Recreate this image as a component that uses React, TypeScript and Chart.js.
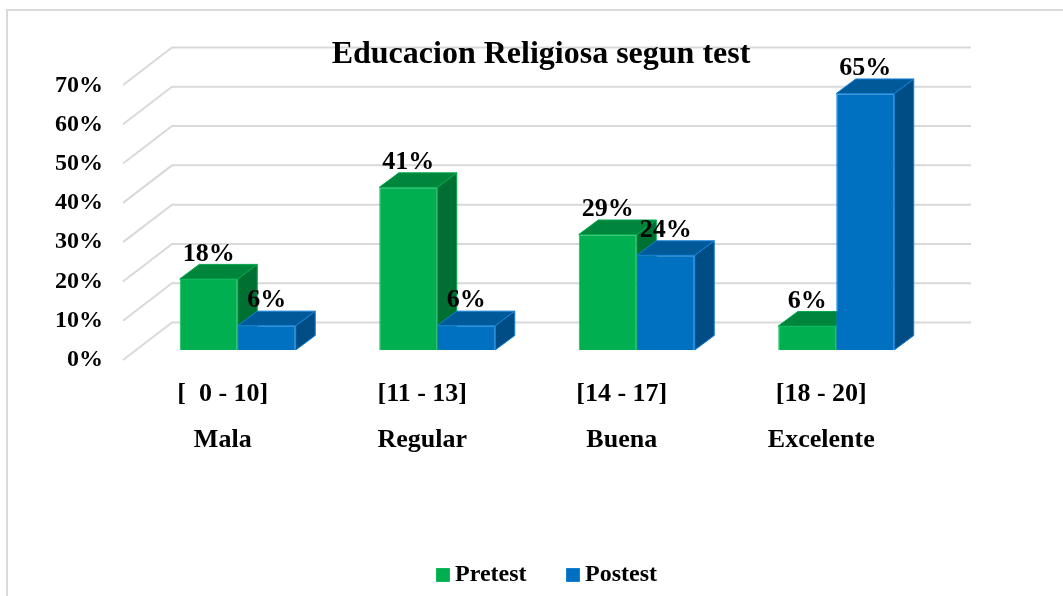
import React, { useEffect, useRef } from "react";
import { Chart, registerables } from "chart.js";

Chart.register(...registerables);

const categoryRanges = ["[  0 - 10]", "[11 - 13]", "[14 - 17]", "[18 - 20]"];
const categoryNames = ["Mala", "Regular", "Buena", "Excelente"];
const pretest = [18.1, 41.4, 29.4, 6.1];
const postest = [6.2, 6.2, 24.1, 65.3];
const yTicks = [0, 10, 20, 30, 40, 50, 60, 70];

const FONT = "'Liberation Serif'";
const GRID = "#D9D9D9";
const GREEN = "#00B050";
const BLUE = "#0070C0";
const faceColors = [
  { top: "#00853C", side: "#006F32", edge: "#00A84C" },
  { top: "#005A9A", side: "#004C84", edge: "#1580D8" },
];

const DEPTH_X = 19.5;
const DEPTH_Y = 14.5;

const poly = (ctx: CanvasRenderingContext2D, pts: number[][], fill: string, edge: string) => {
  ctx.beginPath();
  pts.forEach(([x, y], i) => (i ? ctx.lineTo(x, y) : ctx.moveTo(x, y)));
  ctx.closePath();
  ctx.fillStyle = fill;
  ctx.fill();
  ctx.strokeStyle = edge;
  ctx.lineWidth = 1;
  ctx.stroke();
};

const wallPlugin = {
  id: "wall",
  beforeDraw(chart: any) {
    const { ctx, scales } = chart;
    const area = chart.chartArea;
    ctx.save();
    ctx.strokeStyle = GRID;
    ctx.lineWidth = 2;
    yTicks.forEach((v) => {
      const y = scales.y.getPixelForValue(v);
      ctx.beginPath();
      ctx.moveTo(area.left - 15, y + 10);
      ctx.lineTo(area.left + 34, y - 27.5);
      ctx.lineTo(area.right + 35, y - 27.5);
      ctx.stroke();
    });
    ctx.restore();
  },
};

const facesPlugin = {
  id: "faces",
  beforeDatasetsDraw(chart: any) {
    const { ctx } = chart;
    ctx.save();
    [0, 1].forEach((d) => {
      const c = faceColors[d];
      chart.getDatasetMeta(d).data.forEach((bar: any) => {
        const { x, y, base, width } = bar.getProps(["x", "y", "base", "width"], true);
        const l = x - width / 2;
        const r = x + width / 2;
        poly(ctx, [[r, y], [r + DEPTH_X, y - DEPTH_Y], [r + DEPTH_X, base - DEPTH_Y], [r, base]], c.side, c.edge);
        poly(ctx, [[l, y], [r, y], [r + DEPTH_X, y - DEPTH_Y], [l + DEPTH_X, y - DEPTH_Y]], c.top, c.edge);
      });
    });
    ctx.restore();
  },
};

const valueLabelPlugin = {
  id: "valueLabels",
  afterDatasetsDraw(chart: any) {
    const { ctx } = chart;
    ctx.save();
    ctx.font = `bold 26px ${FONT}`;
    ctx.fillStyle = "#000";
    ctx.textAlign = "center";
    ctx.textBaseline = "middle";
    [0, 1].forEach((d) => {
      const values = chart.data.datasets[d].data;
      chart.getDatasetMeta(d).data.forEach((bar: any, i: number) => {
        ctx.fillText(`${Math.round(values[i])}%`, bar.x, bar.y - 25);
      });
    });
    ctx.restore();
  },
};

const boxShiftPlugin = {
  id: "boxShift",
  afterLayout(chart: any) {
    chart.titleBlock.left += 63;
    chart.titleBlock.right += 63;
    chart.legend.left += 72;
    chart.legend.right += 72;
    chart.legend.top += 1;
    chart.legend.bottom += 1;
  },
};

export default function App() {
  const ref = useRef<HTMLCanvasElement>(null);

  useEffect(() => {
    document.body.style.margin = "0";
    const chart = new Chart(ref.current!, {
      type: "bar",
      data: {
        labels: categoryRanges.map((r, i) => [r, categoryNames[i]]),
        datasets: [
          { label: "Pretest", data: pretest, backgroundColor: GREEN, borderColor: "#12B85E", borderWidth: 1 },
          { label: "Postest", data: postest, backgroundColor: BLUE, borderColor: "#1580D8", borderWidth: 1 },
        ],
      },
      options: {
        animation: false,
        responsive: false,
        layout: { padding: { left: 20, right: 127, bottom: 0, top: 0 } },
        datasets: { bar: { categoryPercentage: 0.5815, barPercentage: 1 } },
        plugins: {
          title: {
            display: true,
            text: "Educacion Religiosa segun test",
            color: "#000",
            font: { family: FONT, size: 32, weight: "bold", lineHeight: 1.1 },
            padding: { top: 37, bottom: 2.8 },
          },
          legend: {
            position: "bottom",
            labels: {
              color: "#000",
              usePointStyle: true,
              pointStyle: "rect",
              boxWidth: 0.01,
              boxHeight: 13,
              padding: 46.5,
              font: { family: FONT, size: 24, weight: "bold" },
            },
          },
          tooltip: { enabled: false },
        },
        scales: {
          x: {
            grid: { display: false },
            border: { display: false },
            ticks: {
              color: "#000",
              padding: 3,
              labelOffset: -15,
              maxRotation: 0,
              autoSkip: false,
              font: { family: FONT, size: 26, weight: "bold", lineHeight: 1.77 },
            },
            afterFit(scale: any) {
              const legendH = scale.chart.legend?.height ?? 0;
              scale.height = 596 - 360 - legendH;
            },
          },
          y: {
            display: false,
            min: -2.545,
            max: 70,
          },
          y1: {
            position: "left",
            min: -0.035,
            max: 72.665,
            grid: { display: false },
            border: { display: false },
            afterBuildTicks(scale: any) {
              scale.ticks = yTicks.map((value) => ({ value }));
            },
            afterFit(scale: any) {
              scale.width = 118;
            },
            ticks: {
              color: "#000",
              padding: 27,
              autoSkip: false,
              font: { family: FONT, size: 24, weight: "bold" },
              callback: (v: any) => `${v}%`,
            },
          },
        },
      } as any,
      plugins: [wallPlugin, facesPlugin, valueLabelPlugin, boxShiftPlugin],
    });
    return () => chart.destroy();
  }, []);

  return (
    <div style={{ position: "relative", width: 1063, height: 596, overflow: "hidden", background: "#fff" }}>
      <div
        style={{
          position: "absolute",
          left: 6,
          top: 9,
          width: 1100,
          height: 640,
          border: "2px solid #D9D9D9",
          boxSizing: "border-box",
        }}
      />
      <canvas ref={ref} width={1063} height={596} style={{ position: "absolute", left: 0, top: 0 }} />
    </div>
  );
}
